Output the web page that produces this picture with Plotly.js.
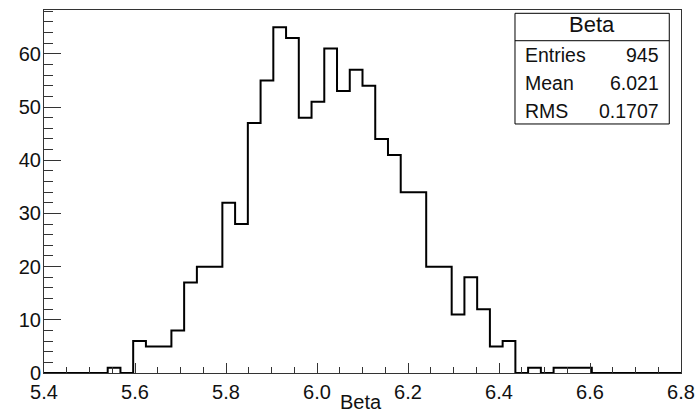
<!DOCTYPE html>
<html>
<head>
<meta charset="utf-8">
<script src="https://cdn.plot.ly/plotly-3.0.1.min.js"></script>
<style>html,body{margin:0;padding:0;background:#fff;}#chart{width:695px;height:415px;}</style>
</head>
<body>
<div id="chart"></div>
<script>
// Histogram "Beta": 50 bins from 5.4 to 6.8
const xMin = 5.4;
const xMax = 6.8;
const nBins = 50;
const counts = [
  0, 0, 0, 0, 0, 1, 0, 6, 5, 5,
  8, 17, 20, 20, 32, 28, 47, 55, 65, 63,
  48, 51, 61, 53, 57, 54, 44, 41, 34, 34,
  20, 20, 11, 18, 12, 5, 6, 0, 1, 0,
  1, 1, 1, 0, 0, 0, 0, 0, 0, 0
];
const statsTitle = "Beta";
const statsLabels = ["Entries", "Mean", "RMS"];
const statsValues = ["945", "6.021", "0.1707"];
const xTitle = "Beta";

const binW = (xMax - xMin) / nBins;
const edges = [];
for (let k = 0; k <= nBins; k++) edges.push(xMin + k * binW);
const stepY = counts.concat([counts[counts.length - 1]]);

const font = "Liberation Sans, Arial, Helvetica, sans-serif";
const fsTick = 20;
const fsStats = 19.5;
const txtColor = "#111";

const trace = {
  type: "scatter",
  mode: "lines",
  x: edges,
  y: stepY,
  line: {shape: "hv", color: "#000", width: 2},
  hoverinfo: "skip"
};

// stats box geometry (paper coords)
const bx0 = 0.7394, bx1 = 0.9816, byTop = 0.9909, byBot = 0.686, bySep = 0.9154;
const rowY = [0.876, 0.799, 0.7218];

const shapes = [
  {type: "rect", xref: "paper", yref: "paper", x0: bx0, x1: bx1, y0: byBot, y1: byTop,
   line: {color: "#000", width: 1}, fillcolor: "#fff", layer: "above"},
  {type: "line", xref: "paper", yref: "paper", x0: bx0, x1: bx1, y0: bySep, y1: bySep,
   line: {color: "#000", width: 1}, layer: "above"}
];
const annotations = [
  {xref: "paper", yref: "paper", x: (bx0 + bx1) / 2, y: 0.9587, text: statsTitle,
   showarrow: false, xanchor: "center", yanchor: "middle", font: {family: font, size: 22, color: txtColor}},
  {xref: "paper", yref: "paper", x: 0.4976, y: 0, yshift: -28.5, text: xTitle,
   showarrow: false, xanchor: "center", yanchor: "middle", font: {family: font, size: 20, color: txtColor}}
];
statsLabels.forEach((lab, i) => {
  annotations.push({xref: "paper", yref: "paper", x: 0.7515, y: rowY[i], text: lab,
    showarrow: false, xanchor: "left", yanchor: "middle", font: {family: font, size: fsStats, color: txtColor}});
  annotations.push({xref: "paper", yref: "paper", x: 0.968, y: rowY[i], text: statsValues[i],
    showarrow: false, xanchor: "right", yanchor: "middle", font: {family: font, size: fsStats, color: txtColor}});
});

const layout = {
  width: 695, height: 415,
  margin: {l: 44, r: 14, t: 10, b: 42},
  paper_bgcolor: "#fff", plot_bgcolor: "#fff",
  showlegend: false,
  font: {family: font, size: fsTick, color: txtColor},
  xaxis: {
    range: [xMin, xMax], dtick: 0.2, tick0: 5.4, tickformat: ".1f",
    ticks: "inside", ticklen: 10, tickcolor: "#333", tickwidth: 1,
    minor: {dtick: 0.05, ticks: "inside", ticklen: 6, tickcolor: "#333", tickwidth: 1, showgrid: false},
    showline: true, linecolor: "#333", linewidth: 1, mirror: true,
    showgrid: false, zeroline: false, ticklabelstandoff: 1,
    tickfont: {family: font, size: fsTick, color: txtColor}
  },
  yaxis: {
    range: [0, 68.25], dtick: 10, tick0: 0,
    ticks: "inside", ticklen: 17, tickcolor: "#333", tickwidth: 1,
    minor: {dtick: 2, ticks: "inside", ticklen: 9, tickcolor: "#333", tickwidth: 1, showgrid: false},
    showline: true, linecolor: "#333", linewidth: 1, mirror: true,
    showgrid: false, zeroline: false, ticklabelstandoff: -2,
    tickfont: {family: font, size: fsTick, color: txtColor}
  },
  shapes: shapes,
  annotations: annotations
};

Plotly.newPlot("chart", [trace], layout, {displayModeBar: false, staticPlot: true});
</script>
</body>
</html>
